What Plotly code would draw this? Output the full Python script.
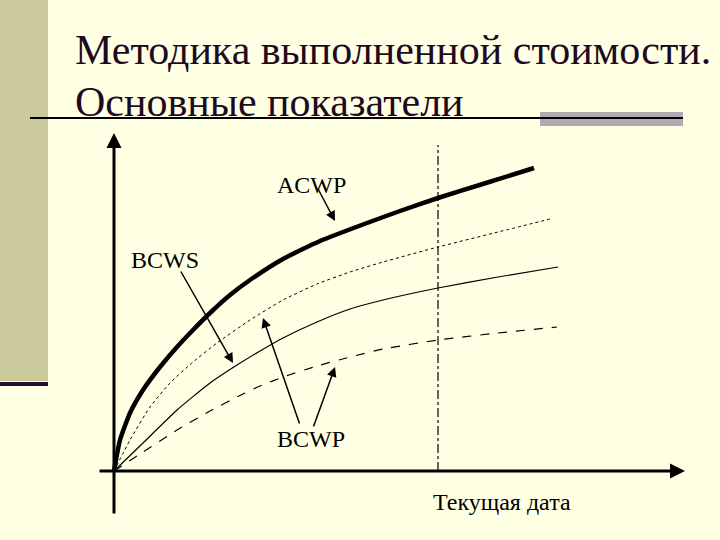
import plotly.graph_objects as go

# Schematic earned-value curves (time units, cost units)
acwp_t = [0, 6, 16, 29, 46, 63, 79, 96, 116, 136, 169, 206, 253, 286, 324, 372, 420]
acwp_c = [0, 31, 58, 81, 104, 124, 141, 158, 176, 191, 212, 230, 248, 260, 273, 288, 303]

bcws_t = [0, 16, 36, 56, 79, 103, 136, 169, 203, 236, 269, 324, 380, 436]
bcws_c = [0, 31, 64, 88, 109, 128, 151, 171, 187, 199, 209, 224, 238, 252]

bcwp_t = [0, 29, 63, 96, 123, 146, 169, 203, 236, 269, 324, 384, 444]
bcwp_c = [0, 28, 61, 88, 106, 120, 133, 149, 162, 171, 183, 194, 204]

bcwp2_t = [0, 29, 63, 96, 129, 146, 169, 203, 236, 269, 324, 384, 443]
bcwp2_c = [0, 19, 41, 60, 77, 85, 94, 105, 114, 122, 131, 138, 144]

current_date = 324

title_line1 = "Методика выполненной стоимости."
title_line2 = "Основные показатели"
labels = ["ACWP", "BCWS", "BCWP", "Текущая дата"]

BG = "#FFFFE3"
INK = "#000000"
SERIF = "Liberation Serif"

fig = go.Figure()
fig.add_trace(go.Scatter(x=acwp_t, y=acwp_c, mode="lines",
                         line=dict(color=INK, width=4.5, shape="spline", smoothing=0.5)))
fig.add_trace(go.Scatter(x=bcws_t, y=bcws_c, mode="lines",
                         line=dict(color=INK, width=1, dash="dot", shape="spline", smoothing=0.5)))
fig.add_trace(go.Scatter(x=bcwp_t, y=bcwp_c, mode="lines",
                         line=dict(color=INK, width=1.2, shape="spline", smoothing=0.5)))
fig.add_trace(go.Scatter(x=bcwp2_t, y=bcwp2_c, mode="lines",
                         line=dict(color=INK, width=1.2, dash="dash", shape="spline", smoothing=0.5)))

def arrow(head, tail, width=1.5, size=1.3):
    fig.add_annotation(x=head[0], y=head[1], ax=tail[0], ay=tail[1],
                       xref="x", yref="y", axref="x", ayref="y",
                       text="", showarrow=True, arrowhead=2, arrowsize=size,
                       arrowwidth=width, arrowcolor=INK)

# coordinate axes with arrows
arrow((571, 0), (-16, 0), width=3, size=1)
arrow((0, 338), (0, -44), width=3, size=1)

# label pointers
arrow((221, 250), (203, 284))
arrow((119, 108), (66, 201))
arrow((149, 153), (186, 46))
arrow((221, 104), (199, 43))

# current date line
fig.add_shape(type="line", xref="x", yref="y", x0=current_date, x1=current_date,
              y0=0, y1=326, line=dict(color=INK, width=1.2, dash="dashdot"))

lab_font = dict(family=SERIF, size=24, color=INK)
fig.add_annotation(x=197, y=286, text=labels[0], showarrow=False, font=lab_font)
fig.add_annotation(x=51, y=211, text=labels[1], showarrow=False, font=lab_font)
fig.add_annotation(x=197, y=32, text=labels[2], showarrow=False, font=lab_font)
fig.add_annotation(x=388, y=-31, text=labels[3], showarrow=False, font=lab_font)

# slide decorations (paper coords)
def py(p):
    return 1 - p / 540

fig.add_shape(type="rect", xref="paper", yref="paper", x0=0, x1=48 / 720,
              y0=py(381), y1=1, fillcolor="#C9C99B", line=dict(width=0), layer="below")
fig.add_shape(type="rect", xref="paper", yref="paper", x0=0, x1=48 / 720,
              y0=py(386), y1=py(382), fillcolor="#2B0B2B", line=dict(width=0))
fig.add_shape(type="rect", xref="paper", yref="paper", x0=540 / 720, x1=683 / 720,
              y0=py(126), y1=py(112), fillcolor="#B2AAB2", line=dict(width=0))
fig.add_shape(type="line", xref="paper", yref="paper", x0=30 / 720, x1=683 / 720,
              y0=py(118), y1=py(118), line=dict(color=INK, width=2))

title_font = dict(family=SERIF, size=42, color="#1E0A1E")
fig.add_annotation(xref="paper", yref="paper", x=73 / 720, y=py(50), xanchor="left",
                   yanchor="middle", text=title_line1, showarrow=False, font=title_font)
fig.add_annotation(xref="paper", yref="paper", x=73 / 720, y=py(102), xanchor="left",
                   yanchor="middle", text=title_line2, showarrow=False, font=title_font)

fig.update_layout(width=720, height=540, margin=dict(l=0, r=0, t=0, b=0),
                  paper_bgcolor=BG, plot_bgcolor=BG, showlegend=False,
                  xaxis=dict(range=[-114, 606], visible=False, fixedrange=True),
                  yaxis=dict(range=[-69, 471], visible=False, fixedrange=True))

fig.write_html("out.html", config={"displayModeBar": False},
               post_script="document.body.style.margin='0';document.body.style.background='" + BG + "';")
